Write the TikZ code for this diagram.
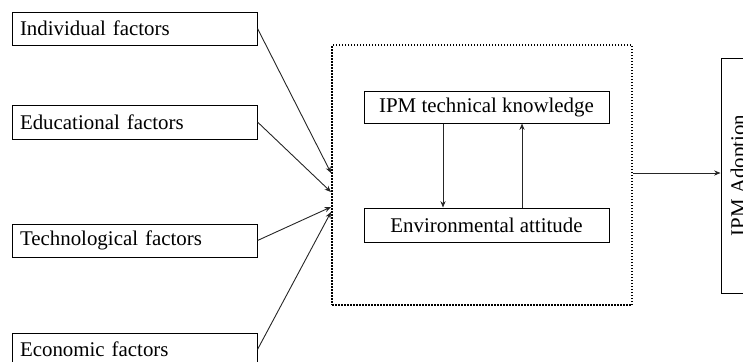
\documentclass[tikz,border=0pt]{standalone}
\usepackage{fontspec}
\setmainfont{Liberation Serif}
\usetikzlibrary{arrows.meta}

\begin{document}
\begin{tikzpicture}[x=0.5pt,y=-0.5pt,
    txt/.style={font=\fontsize{10.45}{12.5}\selectfont},
    factor/.style={txt,draw,line width=0.5pt,text width=114.5pt,align=left,inner xsep=4pt,inner ysep=0pt,minimum height=16.5pt},
    inbox/.style={txt,draw,line width=0.5pt,minimum width=122.5pt,inner sep=0pt},
    arr/.style={-{Stealth[length=3.2pt,width=2.6pt]},line width=0.45pt,draw=black!85}]
        \useasboundingbox (0,0) rectangle (743,361);

        \node[factor] (ind) at (134.5,28.5) {Individual factors};
        \node[factor,minimum height=17pt] (edu) at (134.5,122) {Educational factors};
        \node[factor] (tech) at (134.5,240.5) {Technological factors};
        \node[factor] (eco) at (134.5,349.5) {Economic factors};

        \node[draw,line width=0.75pt,dash pattern=on 0.75pt off 0.75pt,minimum width=150pt,minimum height=130pt] (frame) at (482,175) {};
        \node[inbox,minimum height=16pt] (know) at (486.5,107) {IPM technical knowledge};
        \node[inbox,minimum height=17pt] (att) at (486.5,225) {Environmental attitude};

        \node[txt,draw,line width=0.5pt,rotate=90,minimum width=117.5pt,minimum height=19pt,inner sep=0pt] (adopt) at (740,175.5) {IPM Adoption};

        \coordinate (in1) at (331,173);
        \coordinate (in2) at (331,192);
        \coordinate (in3) at (331,207);
        \coordinate (in4) at (331,212);

        \draw[arr] (ind.east) -- (in1);
        \draw[arr] (edu.east) -- (in2);
        \draw[arr] (tech.east) -- (in3);
        \draw[arr] (eco.east) -- (in4);

        \draw[arr] ([xshift=-21.75pt]know.south) -- ([xshift=-21.75pt]att.north);
        \draw[arr] ([xshift=17.75pt]att.north) -- ([xshift=17.75pt]know.south);

        \draw[arr] ([yshift=1pt]frame.east) -- ([yshift=1pt]frame.east -| adopt.north);
\end{tikzpicture}
\end{document}
